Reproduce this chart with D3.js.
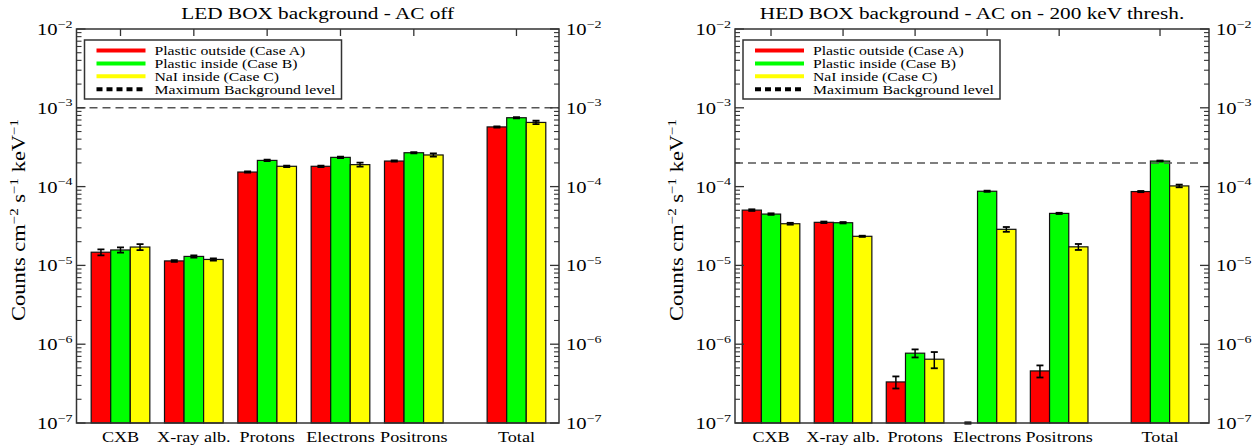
<!DOCTYPE html>
<html><head><meta charset="utf-8">
<script src="https://cdn.jsdelivr.net/npm/d3@7"></script>
<style>body{margin:0;background:#fff}svg{display:block}</style>
</head><body><svg id="chart" width="1255" height="448"></svg>
<script>
// Background components and their positions along the category axis
const categories = ["CXB", "X-ray alb.", "Protons", "Electrons", "Positrons", "Total"];
const categoryPos = [0, 1, 2, 3, 4, 5.4];

const seriesNames = ["Plastic outside (Case A)", "Plastic inside (Case B)", "NaI inside (Case C)"];
const seriesColors = ["#ff0000", "#00ff00", "#ffff00"];
const maxLevelName = "Maximum Background level";

const yTicks = [1e-2, 1e-3, 1e-4, 1e-5, 1e-6, 1e-7];

// LED box, AC off (counts cm^-2 s^-1 keV^-1)
const ledA = [1.47e-5, 1.14e-5, 1.53e-4, 1.81e-4, 2.11e-4, 5.72e-4];
const ledB = [1.57e-5, 1.30e-5, 2.15e-4, 2.35e-4, 2.69e-4, 7.48e-4];
const ledC = [1.71e-5, 1.19e-5, 1.81e-4, 1.90e-4, 2.52e-4, 6.52e-4];
const ledAErr = [1.3e-6, 3e-7, 3e-6, 4e-6, 4e-6, 1.0e-5];
const ledBErr = [1.2e-6, 4e-7, 4e-6, 5e-6, 5e-6, 1.4e-5];
const ledCErr = [1.5e-6, 4e-7, 4e-6, 1.1e-5, 1.2e-5, 3.3e-5];
const ledMaxLevel = 1e-3;

// HED box, AC on with 200 keV threshold
const hedA = [5.03e-5, 3.52e-5, 3.32e-7, 1.0e-7, 4.58e-7, 8.65e-5];
const hedB = [4.48e-5, 3.48e-5, 7.69e-7, 8.73e-5, 4.57e-5, 2.11e-4];
const hedC = [3.38e-5, 2.34e-5, 6.45e-7, 2.87e-5, 1.72e-5, 1.02e-4];
const hedAErr = [1.2e-6, 8e-7, 5.8e-8, 2e-9, 8e-8, 1.5e-6];
const hedBErr = [1.0e-6, 7e-7, 9e-8, 1.5e-6, 8e-7, 3e-6];
const hedCErr = [9e-7, 4e-7, 1.5e-7, 2e-6, 1.5e-6, 4e-6];
const hedMaxLevel = 2e-4;

const panels = [
  { id: "led", title: "LED BOX background - AC off", values: [ledA, ledB, ledC],
    errors: [ledAErr, ledBErr, ledCErr], maxLevel: ledMaxLevel,
    left: 76.5, right: 559, xDomain: [-0.6, 5.98], ylab: 25 },
  { id: "hed", title: "HED BOX background - AC on - 200 keV thresh.", values: [hedA, hedB, hedC],
    errors: [hedAErr, hedBErr, hedCErr], maxLevel: hedMaxLevel,
    left: 735, right: 1209, xDomain: [-0.5, 6.08], ylab: 683 }
];

const TOP = 29, BOTTOM = 423;
const FONT = "'Liberation Serif', 'Times New Roman', serif";
const SX = 1.25;            // horizontal stretch for the wide plotting font
const AXIS_COLOR = "#333";

const svg = d3.select("#chart");

function label(parent, x, y, size, anchor, rotate) {
  const g = parent.append("g")
    .attr("transform", `translate(${x},${y})` + (rotate ? ` rotate(${rotate})` : "") + ` scale(${SX},1)`);
  return g.append("text")
    .attr("font-family", FONT).attr("font-size", size)
    .attr("text-anchor", anchor || "start").attr("fill", "#000");
}
function power(t, base, exp, size) {
  t.append("tspan").text(base);
  t.append("tspan").attr("font-size", size * 0.68).attr("dy", -size * 0.45).text(exp);
}

panels.forEach(p => {
  const g = svg.append("g").attr("class", p.id);
  const x = d3.scaleLinear().domain(p.xDomain).range([p.left, p.right]);
  const y = d3.scaleLog().domain([1e-7, 1e-2]).range([BOTTOM, TOP]);
  const groupW = 0.8, barW = groupW / 3;
  const bw = x(barW) - x(0);

  const clipId = "clip-" + p.id;
  g.append("clipPath").attr("id", clipId).append("rect")
    .attr("x", p.left).attr("y", TOP).attr("width", p.right - p.left).attr("height", BOTTOM - TOP + 2);
  const plot = g.append("g").attr("clip-path", `url(#${clipId})`);

  // bars
  p.values.forEach((vals, si) => {
    plot.append("g").selectAll("rect").data(vals).join("rect")
      .attr("x", (d, i) => x(categoryPos[i] - groupW / 2 + si * barW))
      .attr("y", d => y(d))
      .attr("width", bw)
      .attr("height", d => y(1e-7) - y(d))
      .attr("fill", seriesColors[si])
      .attr("stroke", "#111").attr("stroke-width", 1.2);
  });

  // error bars
  p.values.forEach((vals, si) => {
    const eg = plot.append("g").attr("stroke", "#000");
    vals.forEach((v, i) => {
      const e = p.errors[si][i];
      const cx = x(categoryPos[i] - groupW / 2 + (si + 0.5) * barW);
      const lo = y(Math.max(v - e, 1e-9)), hi = y(v + e);
      eg.append("line").attr("x1", cx).attr("x2", cx).attr("y1", lo).attr("y2", hi).attr("stroke-width", 1.5);
      [lo, hi].forEach(yy => eg.append("line").attr("x1", cx - 3.5).attr("x2", cx + 3.5)
        .attr("y1", yy).attr("y2", yy).attr("stroke-width", 1.8));
    });
  });

  // maximum background level
  plot.append("line")
    .attr("x1", p.left).attr("x2", p.right)
    .attr("y1", y(p.maxLevel)).attr("y2", y(p.maxLevel))
    .attr("stroke", "#555").attr("stroke-width", 1.5).attr("stroke-dasharray", "8,5");

  // axes frame and ticks
  const ax = g.append("g").attr("stroke", AXIS_COLOR).attr("fill", "none");
  ax.append("rect").attr("x", p.left).attr("y", TOP).attr("width", p.right - p.left)
    .attr("height", BOTTOM - TOP).attr("stroke-width", 1.5);
  const minor = [];
  for (let e = -7; e < -2; e++) for (let k = 2; k <= 9; k++) minor.push(k * Math.pow(10, e));
  [[p.left, 1], [p.right, -1]].forEach(([xx, dir]) => {
    yTicks.forEach(t => ax.append("line").attr("x1", xx).attr("x2", xx + dir * 9)
      .attr("y1", y(t)).attr("y2", y(t)).attr("stroke-width", 1.3));
    minor.forEach(t => ax.append("line").attr("x1", xx).attr("x2", xx + dir * 5)
      .attr("y1", y(t)).attr("y2", y(t)).attr("stroke-width", 1.1));
  });
  categoryPos.forEach(c => ax.append("line").attr("x1", x(c)).attr("x2", x(c))
    .attr("y1", TOP).attr("y2", TOP + 7).attr("stroke-width", 1.3));

  // tick labels
  yTicks.forEach(t => {
    const ex = "\u2212" + Math.round(-Math.log10(t));
    power(label(g, p.left - 4, y(t) + 6, 16.5, "end"), "10", ex, 16.5);
    power(label(g, p.right + 7, y(t) + 6, 16.5, "start"), "10", ex, 16.5);
  });
  categories.forEach((c, i) => label(g, x(categoryPos[i]), 442, 14.5, "middle").text(c));

  // title
  label(g, (p.left + p.right) / 2, 19, 17, "middle").text(p.title);

  // y axis label
  const yl = label(g, p.ylab, (TOP + BOTTOM) / 2 - 6, 18, "middle", -90);
  yl.append("tspan").text("Counts cm");
  yl.append("tspan").attr("font-size", 12).attr("dy", -7.5).text("\u22122");
  yl.append("tspan").attr("dy", 7.5).text(" s");
  yl.append("tspan").attr("font-size", 12).attr("dy", -7.5).text("\u22121");
  yl.append("tspan").attr("dy", 7.5).text(" keV");
  yl.append("tspan").attr("font-size", 12).attr("dy", -7.5).text("\u22121");

  // legend
  const lx = p.left + 8, ly = 40;
  const leg = g.append("g");
  leg.append("rect").attr("x", lx).attr("y", ly).attr("width", 257).attr("height", 59)
    .attr("fill", "#fff").attr("stroke", AXIS_COLOR).attr("stroke-width", 1.5);
  const items = seriesNames.map((n, i) => ({ name: n, color: seriesColors[i], dash: null }))
    .concat([{ name: maxLevelName, color: "#000", dash: "6,4" }]);
  items.forEach((it, i) => {
    const yy = ly + 10.5 + i * 12.9;
    leg.append("line").attr("x1", lx + 12).attr("x2", lx + 61).attr("y1", yy).attr("y2", yy)
      .attr("stroke", it.color).attr("stroke-width", 4)
      .attr("stroke-dasharray", it.dash);
    label(leg, lx + 70, yy + 4.5, 12.6, "start").text(it.name);
  });
});
</script>
</body></html>
